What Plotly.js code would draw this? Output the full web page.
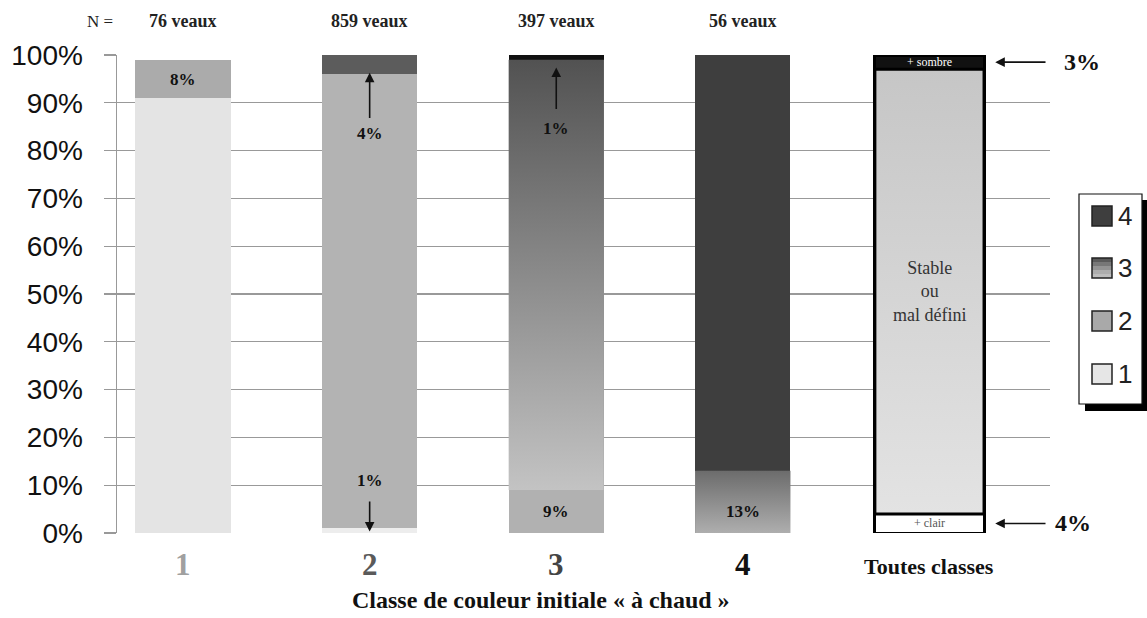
<!DOCTYPE html>
<html>
<head>
<meta charset="utf-8">
<script src="https://cdn.plot.ly/plotly-3.0.1.min.js"></script>
<style>html,body{margin:0;padding:0;background:#fff;}#chart{width:1147px;height:618px;}</style>
</head>
<body>
<div id="chart"></div>
<script>
// ---------- DATA ----------
const categories = ['1', '2', '3', '4', 'Toutes classes'];
const nLabels = ['76 veaux', '859 veaux', '397 veaux', '56 veaux'];
const yTickVals = [0, 10, 20, 30, 40, 50, 60, 70, 80, 90, 100];
const yTickText = ['0%', '10%', '20%', '30%', '40%', '50%', '60%', '70%', '80%', '90%', '100%'];
// share (%) of calves per final colour class, by initial class (bars 1..4), stacked bottom->top
const class1 = [91, 1, 0, 0];
const class2 = [8, 95, 9, 0];
const class3 = [0, 4, 90, 13];
const class4 = [0, 0, 1, 87];
// all classes together: lighter, stable / ill-defined, darker
const allLabels = ['+ clair', 'Stable<br>ou<br>mal défini', '+ sombre'];
const allValues = [4, 93, 3];
const legendLabels = ['4', '3', '2', '1'];

// ---------- STYLE ----------
const SERIF = 'Liberation Serif, Times New Roman, serif';
const SANS = 'Liberation Sans, Arial, sans-serif';
const W = 0.51, W5 = 0.585;
const xs = [0, 1, 2, 3];
const col1 = ['#e4e4e4', '#ededed', '#e4e4e4', '#e4e4e4'];
const col2 = ['#ababab', '#b3b3b3', '#b1b1b1', '#b1b1b1'];
const col3 = ['#8a8a8a', '#5c5c5c', '#8c8c8c', '#8c8c8c'];
const col4 = ['#3e3e3e', '#3e3e3e', '#111111', '#3e3e3e'];
const grad3 = {2: ['#c3c3c3', '#525252'], 3: ['#aeaeae', '#6c6c6c']};

const traces = [];
function barTrace(vals, colors, name) {
  return {type: 'bar', x: xs, y: vals, width: W, name: name,
    marker: {color: colors, line: {width: 0}}, hoverinfo: 'y+name'};
}
traces.push(barTrace(class1, col1, '1'));
traces.push(barTrace(class2, col2, '2'));
traces.push(barTrace(class3, col3, '3'));
traces.push(barTrace(class4, col4, '4'));

function gradPoly(xc, w, base, h, cBot, cTop, lineW) {
  return {type: 'scatter', mode: 'lines',
    x: [xc - w / 2, xc + w / 2, xc + w / 2, xc - w / 2, xc - w / 2],
    y: [base, base, base + h, base + h, base],
    fill: 'toself',
    fillgradient: {type: 'vertical', colorscale: [[0, cBot], [1, cTop]]},
    line: {width: lineW, color: '#000'}, hoverinfo: 'skip', showlegend: false};
}
Object.keys(grad3).forEach(k => {
  const i = +k;
  const base = class1[i] + class2[i];
  traces.push(gradPoly(xs[i], W, base, class3[i], grad3[k][0], grad3[k][1], 0));
});

const allColors = ['#ffffff', '#d6d6d6', '#111111'];
allValues.forEach((v, j) => {
  traces.push({type: 'bar', x: [4], y: [v], width: W5, name: allLabels[j],
    marker: {color: allColors[j], line: {width: 3, color: '#000'}}, hoverinfo: 'y'});
});
traces.push(gradPoly(4, W5, allValues[0], allValues[1], '#e3e3e3', '#c6c6c6', 3));

// ---------- ANNOTATIONS ----------
const px = x => (x - 117) / 933;
const py = y => (533 - y) / 478;
const ann = [];
function txt(o) { ann.push(Object.assign({showarrow: false, xanchor: 'center', yanchor: 'middle'}, o)); }
const pctFont = {family: SERIF, size: 17, color: '#111'};
function pct(x, y, v) { txt({x: x, y: y, xref: 'x', yref: 'y', text: '<b>' + v + '%</b>', font: pctFont}); }
pct(0, 94.8, class2[0]);
pct(1, 83.5, class3[1]);
pct(1, 10.9, class1[1]);
pct(2, 84.6, class4[2]);
pct(2, 4.4, class2[2]);
pct(3, 4.6, class3[3]);
function arrow(x, yHead, xTail, yTail) {
  ann.push({x: x, y: yHead, ax: xTail, ay: yTail, xref: 'x', yref: 'y', axref: 'x', ayref: 'y',
    text: '', showarrow: true, arrowhead: 2, arrowsize: 1.2, arrowwidth: 1.6, arrowcolor: '#111'});
}
arrow(1, 96.3, 1, 86.5);
arrow(2, 97.4, 2, 88.4);
arrow(1, 0.3, 1, 6.9);
const xHead = 4 + W5 / 2 + 0.06, xTail = 4.63;
[[100 - allValues[2] / 2, allValues[2], 1082], [allValues[0] / 2, allValues[0], 1073]].forEach(([yy, v, lx]) => {
  arrow(xHead, yy, xTail, yy);
  txt({x: px(lx), y: yy, xref: 'paper', yref: 'y', text: '<b>' + v + '%</b>',
    font: {family: SERIF, size: 24, color: '#111'}});
});
txt({x: 4, y: 100 - allValues[2] / 2, xref: 'x', yref: 'y', text: allLabels[2],
  font: {family: SERIF, size: 12, color: '#fff'}});
txt({x: 4, y: allValues[0] / 2, xref: 'x', yref: 'y', text: allLabels[0],
  font: {family: SERIF, size: 12, color: '#555'}});
txt({x: 4, y: 50.5, xref: 'x', yref: 'y', text: allLabels[1],
  font: {family: SERIF, size: 18, color: '#333'}});
txt({x: px(100), y: py(21), xref: 'paper', yref: 'paper', text: 'N =',
  font: {family: SERIF, size: 17, color: '#222'}});
nLabels.forEach((t, i) => {
  txt({x: xs[i], y: py(21), xref: 'x', yref: 'paper', text: '<b>' + t + '</b>',
    font: {family: SERIF, size: 18, color: '#222'}});
});
const catColors = ['#a0a0a0', '#5a5a5a', '#444444', '#111111', '#111111'];
categories.forEach((c, i) => {
  txt({x: i, y: py(i < 4 ? 564 : 566), xref: 'x', yref: 'paper', text: '<b>' + c + '</b>',
    font: {family: SERIF, size: i < 4 ? 31 : 22, color: catColors[i]}});
});
txt({x: px(541), y: py(600), xref: 'paper', yref: 'paper',
  text: '<b>Classe de couleur initiale « à chaud »</b>', font: {family: SERIF, size: 24, color: '#111'}});

// ---------- LEGEND (drawn) ----------
const shapes = [];
function rect(x0, y0, x1, y1, fill, lw, lc) {
  shapes.push({type: 'rect', xref: 'paper', yref: 'paper', x0: px(x0), x1: px(x1), y0: py(y1), y1: py(y0),
    fillcolor: fill, line: {width: lw, color: lc || '#000'}, layer: 'above'});
}
rect(1085, 404, 1147, 411, '#000', 0);
rect(1142, 200, 1147, 411, '#000', 0);
rect(1079, 194, 1142, 404, '#fff', 1.2, '#111');
const legY = [216, 268, 321, 374];
const legCol = ['#3e3e3e', null, '#a9a9a9', '#e6e6e6'];
legendLabels.forEach((l, k) => {
  const c = legY[k];
  if (legCol[k]) {
    rect(1092, c - 10, 1112, c + 10, legCol[k], 1.5, '#222');
  } else {
    const bands = ['#5a5a5a', '#777777', '#939393', '#adadad', '#bdbdbd'];
    bands.forEach((b, j) => rect(1092, c - 10 + 4 * j, 1112, c - 6 + 4 * j, b, 0));
    rect(1092, c - 10, 1112, c + 10, 'rgba(0,0,0,0)', 1.5, '#222');
  }
  txt({x: px(1116), y: py(c), xref: 'paper', yref: 'paper', xanchor: 'left', text: l,
    font: {family: SANS, size: 26, color: '#222'}});
});

const layout = {
  width: 1147, height: 618,
  margin: {l: 117, r: 97, t: 55, b: 85},
  paper_bgcolor: '#fff', plot_bgcolor: '#fff',
  barmode: 'stack', bargap: 0,
  showlegend: false,
  xaxis: {range: [-0.354, 4.646], showticklabels: false, showgrid: false, zeroline: false, showline: false, ticks: ''},
  yaxis: {range: [0, 100], tickmode: 'array', tickvals: yTickVals, ticktext: yTickText,
    tickfont: {family: SANS, size: 28, color: '#111'}, ticks: 'outside', ticklen: 12, tickcolor: '#999', tickwidth: 1.2,
    showgrid: true, gridcolor: '#999', gridwidth: 1.2, zeroline: false, showline: true, linecolor: '#999', linewidth: 1.5,
    ticklabelstandoff: 15},
  annotations: ann,
  shapes: shapes
};
Plotly.newPlot('chart', traces, layout, {displayModeBar: false, staticPlot: true});
</script>
</body>
</html>
